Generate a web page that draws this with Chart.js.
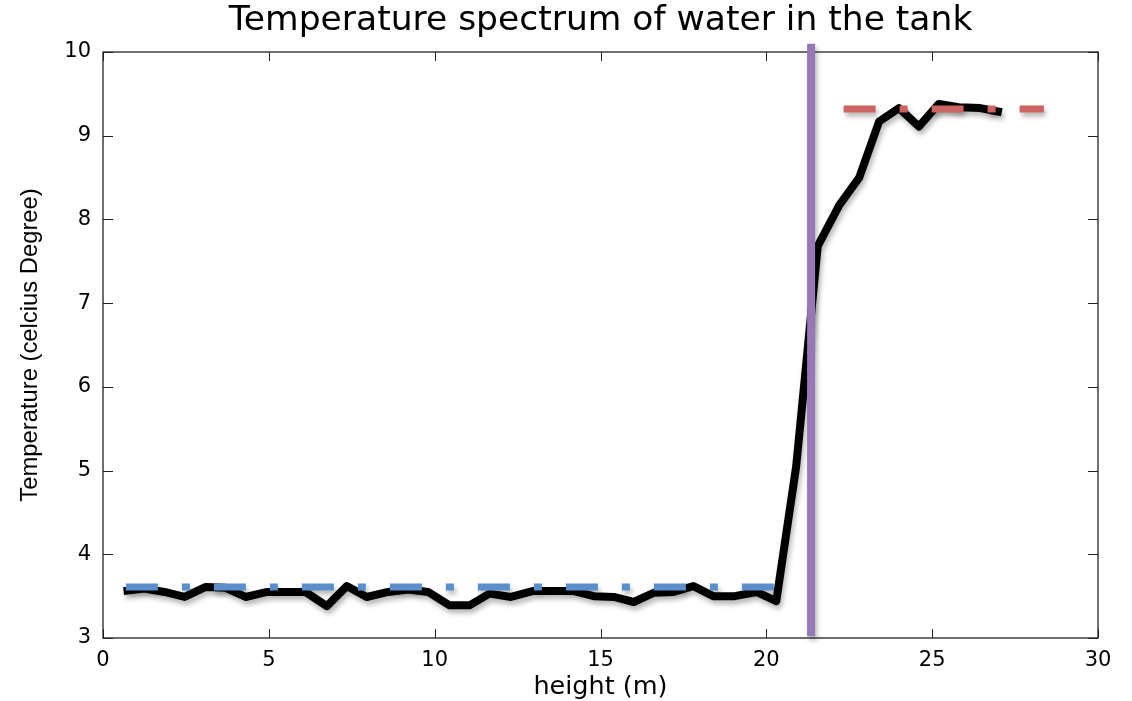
<!DOCTYPE html>
<html><head><meta charset="utf-8">
<script src="https://cdn.jsdelivr.net/npm/chart.js@4.4.1/dist/chart.umd.min.js"></script>
<style>html,body{margin:0;padding:0;background:#fff}#wrap{width:1132px;height:701px;position:relative}</style>
</head><body><div id="wrap"><canvas id="c"></canvas></div>
<script>
// Measured water temperature along the tank height
const heights = [0.62,1.25,1.85,2.46,3.1,3.7,4.3,4.95,5.55,6.1,6.75,7.35,7.95,8.6,9.2,9.8,10.45,11.05,11.65,12.3,12.95,13.55,14.2,14.8,15.4,16.0,16.6,17.2,17.8,18.4,19.05,19.7,20.3,20.9,21.55,22.2,22.8,23.4,24.0,24.6,25.2,25.8,26.45,27.1];
const temps   = [3.56,3.59,3.55,3.49,3.61,3.60,3.49,3.55,3.55,3.55,3.38,3.62,3.49,3.55,3.58,3.55,3.39,3.39,3.53,3.49,3.56,3.56,3.56,3.50,3.49,3.43,3.54,3.55,3.62,3.50,3.50,3.55,3.44,5.05,7.68,8.17,8.50,9.17,9.33,9.11,9.38,9.34,9.33,9.28];
// Lower layer mean (blue), upper layer mean (red), interface (purple)
const lowerMeanX = [0.69, 20.23];
const lowerMeanY = [3.61, 3.61];
const upperMeanX = [22.33, 28.37];
const upperMeanY = [9.32, 9.32];
const interfaceX = [21.35, 21.35];
const interfaceY = [3.02, 10.1];
// Axis ticks
const xTicks = [0, 5, 10, 15, 20, 25, 30];
const yTicks = [3, 4, 5, 6, 7, 8, 9, 10];
const chartTitle = 'Temperature spectrum of water in the tank';

const pts = (xs, ys) => xs.map((v, i) => ({x: v, y: ys[i]}));

const shadow = {
  id: 'shadow',
  beforeDatasetDraw(chart) {
    const ctx = chart.ctx;
    ctx.save();
    ctx.shadowColor = 'rgba(0,0,0,0.28)';
    ctx.shadowBlur = 5;
    ctx.shadowOffsetX = 2;
    ctx.shadowOffsetY = 4;
  },
  afterDatasetDraw(chart) { chart.ctx.restore(); }
};

const boxTicks = {
  id: 'boxTicks',
  beforeDatasetsDraw(chart) {
    const {ctx, chartArea: a, scales: {x, y}} = chart;
    ctx.save();
    ctx.strokeStyle = '#222';
    ctx.lineWidth = 1.3;
    ctx.strokeRect(a.left, a.top, a.right - a.left, a.bottom - a.top);
    ctx.beginPath();
    xTicks.forEach(v => {
      const p = Math.round(x.getPixelForValue(v)) + 0.5;
      ctx.moveTo(p, a.bottom); ctx.lineTo(p, a.bottom - 9);
      ctx.moveTo(p, a.top); ctx.lineTo(p, a.top + 9);
    });
    yTicks.forEach(v => {
      const p = Math.round(y.getPixelForValue(v)) + 0.5;
      ctx.moveTo(a.left, p); ctx.lineTo(a.left + 10, p);
      ctx.moveTo(a.right, p); ctx.lineTo(a.right - 10, p);
    });
    ctx.lineWidth = 1;
    ctx.stroke();
    ctx.restore();
  }
};

new Chart(document.getElementById('c'), {
  type: 'line',
  data: {
    datasets: [
      {label: 'interface', data: pts(interfaceX, interfaceY), borderColor: '#9479b4', borderWidth: 8, borderCapStyle: 'butt', pointRadius: 0, clip: false, order: 0},
      {label: 'upper mean', data: pts(upperMeanX, upperMeanY), borderColor: '#cc6561', borderWidth: 7, borderDash: [32, 24, 8, 24], borderCapStyle: 'butt', pointRadius: 0, order: 1},
      {label: 'lower mean', data: pts(lowerMeanX, lowerMeanY), borderColor: '#5b8fcb', borderWidth: 7, borderDash: [32, 24, 8, 24], borderCapStyle: 'butt', pointRadius: 0, order: 2},
      {label: 'temperature', data: pts(heights, temps), borderColor: '#000', borderWidth: 8, borderJoinStyle: 'round', borderCapStyle: 'butt', pointRadius: 0, tension: 0, order: 3}
    ]
  },
  options: {
    responsive: true,
    maintainAspectRatio: false,
    animation: false,
    layout: {padding: {left: 0, right: 34, top: 0, bottom: 0}},
    plugins: {
      legend: {display: false},
      tooltip: {enabled: false},
      title: {display: false}
    },
    scales: {
      x: {
        type: 'linear', min: 0, max: 30,
        afterBuildTicks: s => { s.ticks = xTicks.map(v => ({value: v})); },
        afterFit: s => { s.height = 63; },
        grid: {display: false, drawTicks: false},
        border: {display: false},
        ticks: {color: '#000', font: {family: 'DejaVu Sans', size: 21}, padding: 10, maxRotation: 0, autoSkip: false},
        title: {display: true, text: 'height (m)', color: '#000', font: {family: 'DejaVu Sans', size: 25.5}, padding: {top: 0, bottom: -2}}
      },
      xTop: {
        type: 'linear', position: 'top', min: 0, max: 30,
        afterFit: s => { s.height = 52; },
        grid: {display: false, drawTicks: false},
        border: {display: false},
        ticks: {display: false},
        title: {display: true, text: chartTitle, color: '#000', font: {family: 'DejaVu Sans', size: 34.5}, padding: {top: 0, bottom: 0}}
      },
      y: {
        type: 'linear', min: 3, max: 10,
        afterBuildTicks: s => { s.ticks = yTicks.map(v => ({value: v})); },
        afterFit: s => { s.width = 103; },
        grid: {display: false, drawTicks: false},
        border: {display: false},
        ticks: {color: '#000', font: {family: 'DejaVu Sans', size: 21}, padding: 12, autoSkip: false},
        title: {display: true, text: 'Temperature (celcius Degree)', color: '#000', font: {family: 'Liberation Sans', size: 23.8}, padding: {top: 16, bottom: 0}}
      }
    }
  },
  plugins: [boxTicks, shadow]
});
</script>
</body></html>
